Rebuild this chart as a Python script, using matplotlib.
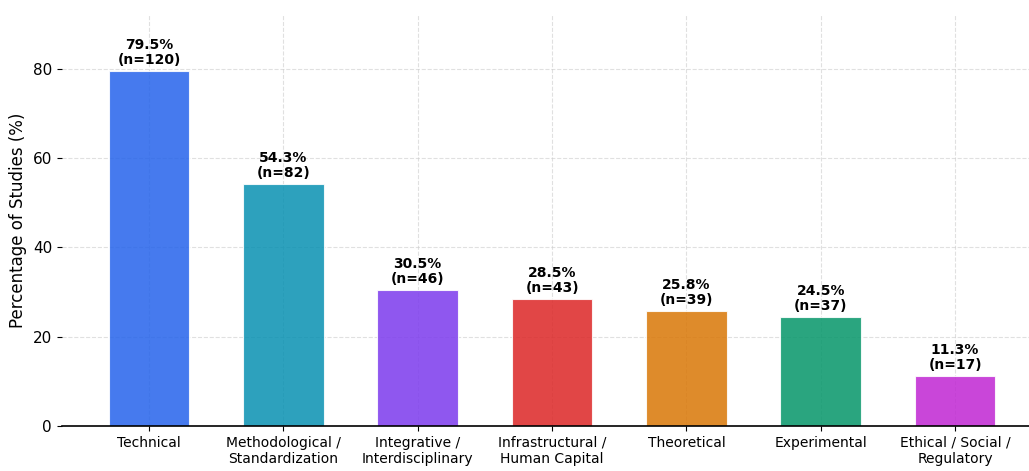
import matplotlib
matplotlib.use("Agg")
import matplotlib.pyplot as plt
import numpy as np

categories = ["Technical", "Methodological /\nStandardization", "Integrative /\nInterdisciplinary",
              "Infrastructural /\nHuman Capital", "Theoretical", "Experimental",
              "Ethical / Social /\nRegulatory"]
percent = [79.5, 54.3, 30.5, 28.5, 25.8, 24.5, 11.3]
counts = [120, 82, 46, 43, 39, 37, 17]
colors = ["#2563eb", "#0891b2", "#7c3aed", "#dc2626", "#d97706", "#059669", "#c026d3"]

fig, ax = plt.subplots(figsize=(10.29, 4.71), dpi=100)
fig.subplots_adjust(left=0.06, right=1.0, bottom=0.095, top=0.968)

x = np.arange(len(categories))
bars = ax.bar(x, percent, 0.6, color=colors, alpha=0.85, edgecolor="white", linewidth=0.8, zorder=2)
for b, p, n in zip(bars, percent, counts):
    ax.text(b.get_x() + b.get_width() / 2, p + 0.8, f"{p}%\n(n={n})",
            ha="center", va="bottom", fontsize=10, fontweight="bold", linespacing=1.1)

ax.set_xticks(x)
ax.set_xticklabels(categories, fontsize=10)
ax.set_ylabel("Percentage of Studies (%)", fontsize=12)
ax.set_yticks([0, 20, 40, 60, 80])
ax.tick_params(axis="y", labelsize=11)
ax.set_xlim(-0.65, 6.55)
ax.set_ylim(0, 92)
ax.grid(True, ls="--", color="#cccccc", alpha=0.6, lw=0.8, zorder=0)
for s in ("top", "right", "left"):
    ax.spines[s].set_visible(False)
ax.spines["bottom"].set_linewidth(1.2)

fig.savefig("out.png", dpi=100)
